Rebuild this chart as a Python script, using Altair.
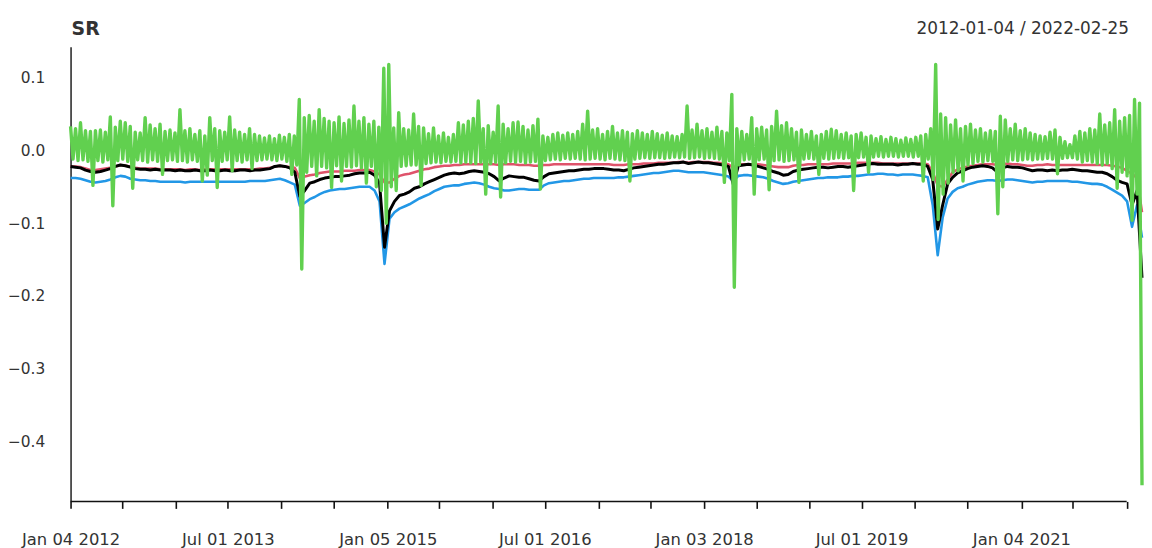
import altair as alt
import pandas as pd

START = "2012-01-04"
END = "2022-02-25"

black_vals = [
    -0.022, -0.023, -0.024, -0.027, -0.029, -0.030, -0.029, -0.027, -0.025, -0.022,
    -0.020, -0.021, -0.023, -0.025, -0.026, -0.026, -0.027, -0.026, -0.027, -0.027,
    -0.027, -0.028, -0.027, -0.028, -0.028, -0.027, -0.028, -0.028, -0.027, -0.028,
    -0.028, -0.027, -0.028, -0.028, -0.027, -0.027, -0.028, -0.027, -0.027, -0.026,
    -0.025, -0.022, -0.021, -0.022, -0.024, -0.030, -0.063, -0.055, -0.045, -0.043,
    -0.040, -0.038, -0.037, -0.036, -0.036, -0.035, -0.034, -0.032, -0.031, -0.031,
    -0.030, -0.034, -0.045, -0.133, -0.083, -0.070, -0.062, -0.060, -0.057, -0.052,
    -0.050, -0.046, -0.043, -0.040, -0.037, -0.034, -0.032, -0.031, -0.032, -0.031,
    -0.029, -0.028, -0.029, -0.030, -0.032, -0.036, -0.042, -0.038, -0.035, -0.036,
    -0.037, -0.037, -0.039, -0.041, -0.042, -0.036, -0.032, -0.031, -0.030, -0.029,
    -0.028, -0.028, -0.027, -0.026, -0.026, -0.025, -0.025, -0.025, -0.026, -0.027,
    -0.027, -0.028, -0.026, -0.024, -0.023, -0.022, -0.021, -0.020, -0.019, -0.019,
    -0.018, -0.017, -0.017, -0.016, -0.018, -0.017, -0.016, -0.017, -0.017, -0.018,
    -0.019, -0.020, -0.022, -0.047, -0.021, -0.020, -0.019, -0.020, -0.022, -0.024,
    -0.026, -0.029, -0.031, -0.034, -0.033, -0.029, -0.027, -0.026, -0.025, -0.024,
    -0.023, -0.023, -0.024, -0.023, -0.022, -0.022, -0.023, -0.022, -0.021, -0.020,
    -0.019, -0.018, -0.019, -0.019, -0.019, -0.019, -0.020, -0.019, -0.019, -0.018,
    -0.019, -0.019, -0.022, -0.040, -0.108, -0.075, -0.046, -0.037, -0.031, -0.028,
    -0.025, -0.023, -0.022, -0.021, -0.022, -0.024, -0.030, -0.024, -0.022, -0.023,
    -0.023, -0.024, -0.026, -0.028, -0.027, -0.027, -0.028, -0.027, -0.028, -0.027,
    -0.027, -0.026, -0.027, -0.028, -0.028, -0.029, -0.030, -0.030, -0.032, -0.036,
    -0.041, -0.044, -0.046, -0.075, -0.055, -0.175,
]

red_vals = [
    -0.022, -0.022, -0.023, -0.025, -0.027, -0.027, -0.026, -0.025, -0.024, -0.022,
    -0.020, -0.021, -0.022, -0.024, -0.025, -0.025, -0.025, -0.025, -0.026, -0.026,
    -0.026, -0.026, -0.026, -0.027, -0.026, -0.026, -0.027, -0.026, -0.026, -0.026,
    -0.026, -0.026, -0.026, -0.026, -0.026, -0.026, -0.026, -0.026, -0.025, -0.025,
    -0.024, -0.022, -0.021, -0.022, -0.023, -0.024, -0.038, -0.036, -0.034, -0.033,
    -0.031, -0.030, -0.029, -0.029, -0.029, -0.028, -0.028, -0.028, -0.027, -0.027,
    -0.027, -0.029, -0.033, -0.044, -0.044, -0.039, -0.035, -0.033, -0.032, -0.030,
    -0.028, -0.026, -0.025, -0.023, -0.022, -0.021, -0.021, -0.020, -0.020, -0.019,
    -0.019, -0.019, -0.019, -0.019, -0.019, -0.019, -0.020, -0.019, -0.019, -0.019,
    -0.020, -0.020, -0.020, -0.021, -0.021, -0.020, -0.020, -0.019, -0.019, -0.019,
    -0.019, -0.019, -0.019, -0.019, -0.019, -0.019, -0.019, -0.019, -0.019, -0.020,
    -0.020, -0.020, -0.019, -0.019, -0.019, -0.018, -0.018, -0.018, -0.017, -0.017,
    -0.017, -0.017, -0.016, -0.016, -0.017, -0.016, -0.016, -0.016, -0.016, -0.017,
    -0.017, -0.018, -0.019, -0.024, -0.019, -0.019, -0.019, -0.019, -0.019, -0.020,
    -0.021, -0.022, -0.023, -0.023, -0.023, -0.021, -0.020, -0.020, -0.019, -0.019,
    -0.019, -0.019, -0.019, -0.018, -0.018, -0.018, -0.018, -0.018, -0.017, -0.017,
    -0.017, -0.017, -0.017, -0.018, -0.018, -0.018, -0.018, -0.018, -0.018, -0.018,
    -0.018, -0.018, -0.019, -0.030, -0.048, -0.050, -0.040, -0.030, -0.026, -0.024,
    -0.022, -0.021, -0.020, -0.019, -0.019, -0.019, -0.020, -0.019, -0.018, -0.019,
    -0.019, -0.020, -0.021, -0.021, -0.020, -0.020, -0.019, -0.020, -0.020, -0.020,
    -0.020, -0.020, -0.020, -0.020, -0.020, -0.020, -0.020, -0.020, -0.020, -0.021,
    -0.022, -0.024, -0.028, -0.032, -0.038, -0.085,
]

blue_vals = [
    -0.038, -0.038, -0.039, -0.041, -0.043, -0.044, -0.043, -0.042, -0.040, -0.037,
    -0.035, -0.036, -0.039, -0.040, -0.041, -0.041, -0.042, -0.042, -0.043, -0.043,
    -0.043, -0.043, -0.043, -0.044, -0.043, -0.043, -0.043, -0.043, -0.043, -0.043,
    -0.043, -0.043, -0.043, -0.043, -0.043, -0.043, -0.042, -0.042, -0.042, -0.042,
    -0.041, -0.040, -0.039, -0.041, -0.044, -0.047, -0.076, -0.072, -0.067, -0.064,
    -0.060, -0.057, -0.055, -0.054, -0.053, -0.053, -0.052, -0.051, -0.050, -0.050,
    -0.050, -0.055, -0.070, -0.156, -0.094, -0.085, -0.080, -0.077, -0.074, -0.070,
    -0.066, -0.063, -0.060, -0.056, -0.053, -0.050, -0.049, -0.048, -0.048, -0.046,
    -0.045, -0.044, -0.045, -0.047, -0.050, -0.052, -0.053, -0.055, -0.055, -0.054,
    -0.053, -0.053, -0.054, -0.054, -0.054, -0.048, -0.045, -0.044, -0.043, -0.042,
    -0.042, -0.041, -0.040, -0.039, -0.039, -0.038, -0.038, -0.038, -0.038, -0.038,
    -0.037, -0.037, -0.036, -0.035, -0.034, -0.033, -0.032, -0.031, -0.031, -0.030,
    -0.029, -0.028, -0.028, -0.029, -0.030, -0.030, -0.030, -0.030, -0.031, -0.032,
    -0.033, -0.034, -0.036, -0.042, -0.035, -0.034, -0.034, -0.035, -0.036, -0.037,
    -0.039, -0.042, -0.044, -0.046, -0.045, -0.043, -0.042, -0.041, -0.040, -0.039,
    -0.038, -0.038, -0.037, -0.037, -0.037, -0.036, -0.036, -0.035, -0.035, -0.034,
    -0.033, -0.033, -0.032, -0.032, -0.033, -0.033, -0.034, -0.033, -0.033, -0.033,
    -0.034, -0.035, -0.037, -0.075, -0.144, -0.092, -0.066, -0.057, -0.052, -0.050,
    -0.047, -0.045, -0.043, -0.042, -0.041, -0.041, -0.042, -0.041, -0.040, -0.040,
    -0.041, -0.042, -0.043, -0.044, -0.043, -0.043, -0.042, -0.042, -0.042, -0.042,
    -0.042, -0.043, -0.043, -0.044, -0.045, -0.046, -0.046, -0.047, -0.050, -0.054,
    -0.058, -0.062, -0.070, -0.105, -0.075, -0.120,
]

# green (daily returns): upper and lower edge of the noisy band per bin
green_hi = [
    0.033, 0.030, 0.038, 0.027, 0.026, 0.027, 0.028, 0.025, 0.046, 0.032,
    0.040, 0.038, 0.033, 0.025, 0.024, 0.045, 0.035, 0.030, 0.036, 0.026,
    0.028, 0.024, 0.056, 0.027, 0.030, 0.022, 0.027, 0.020, 0.045, 0.030,
    0.027, 0.025, 0.046, 0.028, 0.025, 0.022, 0.030, 0.022, 0.020, 0.017,
    0.020, 0.016, 0.021, 0.018, 0.022, 0.020, 0.070, 0.045, 0.048, 0.040,
    0.056, 0.044, 0.040, 0.038, 0.046, 0.037, 0.042, 0.061, 0.040, 0.045,
    0.036, 0.040, 0.032, 0.113, 0.118, 0.031, 0.052, 0.030, 0.028, 0.050,
    0.033, 0.031, 0.023, 0.031, 0.020, 0.024, 0.018, 0.022, 0.038, 0.035,
    0.040, 0.044, 0.068, 0.030, 0.034, 0.025, 0.061, 0.036, 0.030, 0.038,
    0.039, 0.033, 0.028, 0.034, 0.043, 0.020, 0.018, 0.022, 0.024, 0.021,
    0.024, 0.022, 0.026, 0.036, 0.054, 0.028, 0.030, 0.022, 0.026, 0.033,
    0.024, 0.027, 0.025, 0.023, 0.027, 0.024, 0.022, 0.026, 0.023, 0.021,
    0.024, 0.020, 0.019, 0.022, 0.061, 0.028, 0.036, 0.027, 0.030, 0.025,
    0.032, 0.026, 0.024, 0.077, 0.030, 0.026, 0.022, 0.045, 0.030, 0.032,
    0.028, 0.033, 0.054, 0.034, 0.038, 0.030, 0.025, 0.028, 0.022, 0.026,
    0.020, 0.022, 0.026, 0.029, 0.027, 0.022, 0.024, 0.020, 0.022, 0.024,
    0.018, 0.020, 0.016, 0.019, 0.015, 0.018, 0.016, 0.014, 0.017, 0.015,
    0.018, 0.020, 0.022, 0.030, 0.118, 0.050, 0.045, 0.035, 0.042, 0.030,
    0.033, 0.036, 0.028, 0.030, 0.024, 0.027, 0.026, 0.047, 0.042, 0.030,
    0.036, 0.027, 0.030, 0.024, 0.022, 0.020, 0.019, 0.025, 0.028, 0.018,
    0.012, 0.008, 0.020, 0.026, 0.024, 0.030, 0.028, 0.050, 0.035, 0.038,
    0.056, 0.040, 0.045, 0.048, 0.070, 0.065,
]

green_lo = [
    -0.012, -0.014, -0.013, -0.015, -0.048, -0.014, -0.016, -0.013, -0.076, -0.014,
    -0.012, -0.015, -0.052, -0.013, -0.014, -0.016, -0.013, -0.015, -0.033, -0.014,
    -0.013, -0.015, -0.014, -0.016, -0.013, -0.015, -0.042, -0.034, -0.014, -0.051,
    -0.015, -0.013, -0.028, -0.014, -0.016, -0.013, -0.025, -0.014, -0.013, -0.012,
    -0.013, -0.014, -0.012, -0.015, -0.033, -0.020, -0.163, -0.030, -0.022, -0.035,
    -0.022, -0.024, -0.051, -0.021, -0.042, -0.022, -0.023, -0.021, -0.024, -0.045,
    -0.022, -0.050, -0.055, -0.100, -0.050, -0.055, -0.022, -0.021, -0.020, -0.020,
    -0.048, -0.018, -0.017, -0.016, -0.017, -0.015, -0.016, -0.015, -0.017, -0.016,
    -0.017, -0.018, -0.016, -0.060, -0.018, -0.016, -0.064, -0.017, -0.015, -0.016,
    -0.015, -0.017, -0.016, -0.015, -0.053, -0.014, -0.013, -0.012, -0.013, -0.011,
    -0.012, -0.011, -0.012, -0.013, -0.012, -0.011, -0.012, -0.013, -0.011, -0.012,
    -0.013, -0.014, -0.042, -0.012, -0.011, -0.010, -0.011, -0.010, -0.010, -0.011,
    -0.010, -0.009, -0.010, -0.009, -0.011, -0.010, -0.009, -0.011, -0.010, -0.011,
    -0.012, -0.044, -0.014, -0.188, -0.020, -0.013, -0.012, -0.060, -0.013, -0.012,
    -0.054, -0.014, -0.013, -0.015, -0.014, -0.013, -0.044, -0.012, -0.011, -0.012,
    -0.033, -0.011, -0.012, -0.011, -0.010, -0.011, -0.010, -0.055, -0.010, -0.009,
    -0.030, -0.009, -0.008, -0.009, -0.008, -0.008, -0.009, -0.008, -0.008, -0.009,
    -0.008, -0.042, -0.012, -0.040, -0.095, -0.060, -0.045, -0.030, -0.028, -0.042,
    -0.020, -0.018, -0.015, -0.016, -0.014, -0.015, -0.087, -0.050, -0.015, -0.013,
    -0.014, -0.013, -0.012, -0.013, -0.012, -0.012, -0.011, -0.012, -0.032, -0.011,
    -0.010, -0.010, -0.012, -0.016, -0.014, -0.016, -0.018, -0.020, -0.018, -0.025,
    -0.052, -0.030, -0.035, -0.096, -0.060, -0.460,
]

tick_dates = [
    "2012-01-04", "2012-07-02", "2013-01-02", "2013-07-01", "2014-01-02",
    "2014-07-01", "2015-01-05", "2015-07-01", "2016-01-04", "2016-07-01",
    "2017-01-03", "2017-07-03", "2018-01-03", "2018-07-02", "2019-01-02",
    "2019-07-01", "2020-01-02", "2020-07-01", "2021-01-04", "2021-07-01",
    "2022-01-03",
]
tick_labels = ["Jan 04 2012", "Jul 01 2013", "Jan 05 2015", "Jul 01 2016",
               "Jan 03 2018", "Jul 01 2019", "Jan 04 2021"]
y_ticks = [-0.4, -0.3, -0.2, -0.1, 0.0, 0.1]
y_domain = [-0.4823, 0.1426]

title_text = "SR"
range_text = "2012-01-04 / 2022-02-25"

FONT = "DejaVu Sans"
TXT = "#333333"


def ms(dates):
    return (pd.DatetimeIndex(pd.to_datetime(dates)).asi8 // 1_000_000).tolist()


def series_df(vals):
    d = pd.date_range(START, END, periods=len(vals))
    return pd.DataFrame({"t": ms(d), "v": vals})


green_vals = [v for pair in zip(green_hi, green_lo) for v in pair]

x_scale = alt.Scale(type="utc", domain=ms([START, END]))
y_scale = alt.Scale(domain=y_domain, nice=False, zero=False)

lbl_list = ",".join("'%s'" % s for s in tick_labels)
fmt = "utcFormat(datum.value, '%b %d %Y')"
x_axis = alt.Axis(
    values=ms(tick_dates),
    labelExpr=f"indexof([{lbl_list}], {fmt}) >= 0 ? {fmt} : ''",
    ticks=True, tickSize=7, tickWidth=1.6, tickColor="#111111",
    domain=False, grid=False, title=None,
    labelFont=FONT, labelFontSize=16.5, labelColor=TXT, labelPadding=23,
    labelFlush=False, labelOverlap=False, labelBound=False,
)
y_axis = alt.Axis(
    values=y_ticks, format=".1f", ticks=False, tickSize=0,
    domain=True, domainColor="#111111", domainWidth=1.4, grid=False, title=None,
    labelFont=FONT, labelFontSize=15.5, labelColor=TXT, labelPadding=26,
)


def line(vals, color, width):
    return alt.Chart(series_df(vals)).mark_line(
        color=color, strokeWidth=width, strokeJoin="round"
    ).encode(
        x=alt.X("t:T", scale=x_scale, axis=x_axis),
        y=alt.Y("v:Q", scale=y_scale, axis=y_axis),
    )


red_layer = line(red_vals, "#DF536B", 2.6)
blue_layer = line(blue_vals, "#2297E6", 2.6)
black_layer = line(black_vals, "#000000", 3.0)
green_layer = line(green_vals, "#61D04F", 3.4)

axis_line = alt.Chart(
    pd.DataFrame({"a": ms([tick_dates[0]]), "b": ms([tick_dates[-1]])})
).mark_rule(color="#111111", strokeWidth=1.6).encode(
    x=alt.X("a:T", scale=x_scale, axis=x_axis),
    x2="b:T",
    y=alt.value(458),
)

title_layer = alt.Chart(pd.DataFrame({"s": [title_text]})).mark_text(
    font=FONT, fontSize=19, fontWeight="bold", color=TXT, align="left", baseline="middle"
).encode(text="s:N", x=alt.value(1), y=alt.value(-18))

range_layer = alt.Chart(pd.DataFrame({"s": [range_text]})).mark_text(
    font=FONT, fontSize=17, color=TXT, align="right", baseline="middle"
).encode(text="s:N", x=alt.value(1066), y=alt.value(-18))

chart = alt.layer(
    red_layer, blue_layer, black_layer, green_layer, axis_line, title_layer, range_layer
).properties(
    width=1079, height=458,
    autosize=alt.AutoSizeParams(type="none"),
    padding={"left": 63, "top": 37, "right": 2, "bottom": 45},
).configure_view(stroke=None)

chart.save("out.html", embed_options={"renderer": "svg", "actions": False})
